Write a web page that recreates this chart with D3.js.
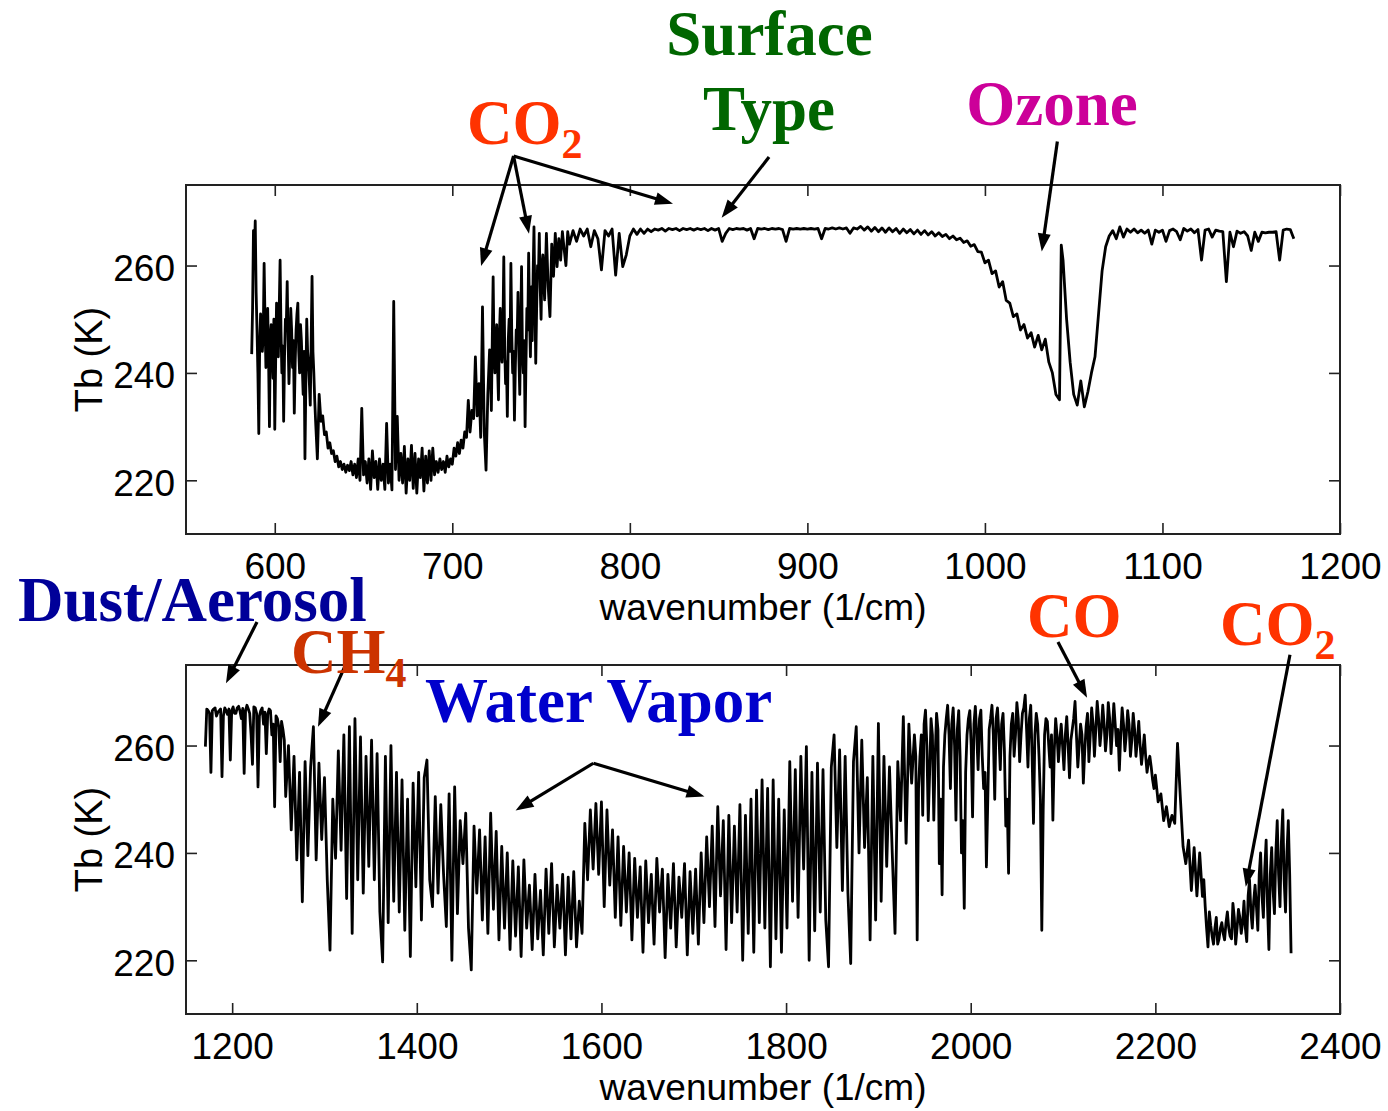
<!DOCTYPE html>
<html>
<head>
<meta charset="utf-8">
<script src="https://cdn.jsdelivr.net/npm/d3@7/dist/d3.min.js"></script>
<style>
  html, body { margin: 0; padding: 0; background: #fff; }
  svg { display: block; }
</style>
</head>
<body>
<svg id="chart" width="1388" height="1111"></svg>
<script>
// ---------------------------------------------------------------
// Brightness temperature spectra, [wavenumber (1/cm), Tb (K)]
// ---------------------------------------------------------------

// Longwave window / CO2 band / ozone band
const upperSpectrum = [
  [587,243.5],[588,266.5],[589,268.3],[590,248],[591,228.7],[592,251],[593,244],[594,260.4],[595,241],[596,252],
  [597,230],[598,249],[599,239],[600,229.5],[601,253],[602,243],[603,261],[604,240],[605,231],[606,250],
  [607,257],[608,238],[609,252],[610,241],[611,232.5],[612,248],[613,253],[614,240],[615,246],[616,236],
  [617,224],[618,250],[619,242],[620,234],[621,258],[622,240],[623,231],[624,224],[625,236],[626,231],
  [627,232],[628,228.5],[629,229],[630,226],[631,227],[632,225],[633,225.5],[634,223.5],[635,224.5],[636,222.5],
  [637,223.5],[638,222],[639,223],[640,221.5],[641,222.8],[642,221.8],[643,223.5],[644,221],[645,223],[646,220.5],
  [647,224],[648,220],[649,233.4],[650,221],[651,223.5],[652,219.5],[653,224],[654,218.3],[655,225.5],[656,220.5],
  [657,223.5],[658,218.3],[659,224],[660,220],[661,223],[662,218.3],[663,230.6],[664,219.5],[665,223],[666,218.2],
  [667,253.3],[668,222],[669,231.9],[670,220],[671,225],[672,219.5],[673,226.3],[674,217.6],[675,224],[676,220],
  [677,226.5],[678,218.5],[679,225],[680,217.6],[681,224],[682,220.5],[683,226],[684,218],[685,224.5],[686,219.5],
  [687,225.5],[688,220],[689,226],[690,221],[691,223.5],[692,221.5],[693,224],[694,222],[695,223.5],[696,221.5],
  [697,224.5],[698,222.5],[699,224],[700,223],[701,226],[702,224.5],[703,227],[704,225],[705,227.5],[706,226],
  [707,229],[708,228],[709,234.9],[710,229],[711,233],[712,231.5],[713,243],[714,232],[715,238],[716,228],
  [717,252.3],[718,229],[719,221.9],[720,236],[721,244.3],[722,233],[723,257.9],[724,240],[725,249],[726,235],
  [727,252],[728,242],[729,261.6],[730,238],[731,231.9],[732,250],[733,260.4],[734,240],[735,231.2],[736,248],
  [737,255],[738,236],[739,259.8],[740,240],[741,230],[742,252],[743,262.3],[744,243],[745,246],[746,267.2],
  [747,241.8],[748,260],[749,266],[750,250],[751,262],[752,253.6],[753,266],[754,256],[755,250.5],[756,264],
  [757,258],[758,266],[759,259.8],[760,265],[761,261],[762,266.3],[763,263],[764,260],[765,266.3],[766,264],
  [768,266.5],[770,264.5],[772,266.8],[774,265.5],[776,266.8],[778,263.5],[780,266.5],[782,265],[784,259.2],[786,266.5],
  [788,265.5],[790,266.8],[792,258.2],[794,266],[796,259.8],[798,262],[800,265.5],[802,266.8],[804,265.8],[806,266.8],
  [808,266],[810,266.8],[812,266.3],[814,266.8],[816,266.6],[818,266.9],[820,266.4],[822,266.9],[824,266.7],[826,266.9],
  [828,266.5],[830,266.9],[832,266.7],[834,266.9],[836,266.6],[838,266.9],[840,266.7],[842,266.9],[844,266.5],[846,266.9],
  [848,266.6],[850,266.9],[852,264.5],[854,266],[856,266.9],[858,266.7],[860,266.9],[862,266.8],[864,266.9],[866,266.6],
  [868,266.9],[870,265],[872,266.9],[874,266.8],[876,266.9],[878,266.7],[880,266.9],[882,266.8],[884,266.9],[886,266.7],
  [888,264.5],[890,266.9],[892,266.8],[894,266.9],[896,266.8],[898,266.9],[900,266.8],[902,266.9],[904,266.8],[906,266.9],
  [908,265],[910,266.9],[912,266.8],[914,267],[916,266.8],[918,267],[920,266.8],[922,267],[924,266],[926,267],
  [928,266.8],[930,267.3],[932,266.6],[934,267.2],[936,266.4],[938,267.1],[940,266.3],[942,267],[944,266.2],[946,267],
  [948,266.3],[950,266.9],[952,266],[954,266.8],[956,266.1],[958,266.7],[960,265.9],[962,266.6],[964,265.8],[966,266.5],
  [968,265.7],[970,266.3],[972,265.5],[974,266.1],[976,265.4],[978,265.8],[980,265],[982,265.5],[984,264.8],[986,265.1],
  [988,264.3],[990,264.6],[992,263.6],[994,263.9],[996,262.6],[998,262.5],[1000,260.5],[1002,261],[1004,258.5],[1006,259],
  [1008,256],[1010,257],[1012,253.5],[1014,253],[1016,250.5],[1018,251],[1020,248],[1022,249],[1024,246.5],[1026,247.5],
  [1028,244.8],[1030,247],[1032,244.3],[1034,246.3],[1036,242],[1038,240],[1040,236],[1042,235],[1043,263.8],[1044,261],
  [1046,250],[1048,242],[1050,236],[1052,234],[1054,238.5],[1056,233.7],[1058,236.5],[1060,240],[1062,243],[1064,251],
  [1066,259],[1068,263.5],[1070,265.5],[1072,266.5],[1074,265],[1076,267.2],[1078,265.3],[1080,266.8],[1082,266.2],[1084,266.8],
  [1086,266.1],[1088,266.6],[1090,266],[1092,266.6],[1094,264],[1096,266.6],[1098,266.2],[1100,266.6],[1102,264.5],[1104,266.5],
  [1106,266.8],[1108,266.3],[1110,264.8],[1112,266.9],[1114,266.4],[1116,266.8],[1118,266.1],[1120,266.7],[1122,261],[1124,266.6],
  [1126,266.8],[1128,265.3],[1130,266.6],[1132,266.4],[1134,266.3],[1136,257],[1138,266.2],[1140,263.5],[1142,266.4],[1144,266],
  [1146,266.3],[1148,265.5],[1150,262.8],[1152,266.2],[1154,264.5],[1156,266.2],[1158,266.1],[1160,266.2],[1162,266.2],[1164,266.3],
  [1166,261],[1168,266.6],[1170,266.8],[1172,266.7],[1174,265]
];

// Extra half-step channels inside the two densest parts of the upper spectrum
const upperSpectrumInterleaved = [
  [587.5,252],[588.5,262],[589.5,255],[590.5,240],[591.5,245],[592.5,249],[593.5,247],[594.5,250],[595.5,246],[596.5,243],
  [597.5,247],[598.5,244],[599.5,250],[600.5,242],[601.5,247],[602.5,252],[603.5,248],[604.5,245],[605.5,243],[606.5,249],
  [607.5,246],[608.5,244],[609.5,248],[610.5,246],[611.5,242],[612.5,251],[613.5,244],[614.5,249],[615.5,241],[616.5,244],
  [617.5,238],[618.5,244],[619.5,238],[620.5,246],[621.5,244],[622.5,235],
  [721.5,240],[722.5,246],[723.5,244],[724.5,246],[725.5,241],[726.5,247],[727.5,244],[728.5,248],[729.5,245],[730.5,242],
  [731.5,246],[732.5,244],[733.5,247],[734.5,244],[735.5,241],[736.5,246],[737.5,243],[738.5,248],[739.5,244],[740.5,246],
  [741.5,242],[742.5,248],[743.5,250],[744.5,256],[745.5,258],[746.5,254],[747.5,252],[748.5,258],[749.5,256],[750.5,260],
  [751.5,257]
];

// Dirty window / water vapour band / CO and CO2 bands (3 cm-1 channels)
const lowerSpectrum = [
  [1171,259.8],[1174,266.5],[1177,255],[1180,266.8],[1183,265.5],[1186,266.5],[1189,254.2],[1192,267],[1195,265.8],[1198,257.3],
  [1201,267.2],[1204,266],[1207,267.3],[1210,265],[1213,254.8],[1216,267.5],[1219,266],[1222,256.5],[1225,267],[1228,252.3],
  [1231,266.5],[1234,264],[1237,258.5],[1240,266.8],[1243,262],[1246,248.6],[1249,265],[1252,257],[1255,263],[1258,250.5],
  [1261,260],[1264,244.3],[1267,258],[1270,238.7],[1273,255],[1276,230.9],[1279,257],[1282,239.5],[1285,256],[1288,263.5],
  [1291,238.7],[1294,256.7],[1297,242.5],[1300,254],[1303,235],[1306,221.9],[1309,250],[1312,239],[1315,259],[1318,240.5],
  [1321,262],[1324,231.5],[1327,263.5],[1330,225],[1333,265],[1336,235],[1339,261.6],[1342,232.5],[1345,258],[1348,237.5],
  [1351,261],[1354,235],[1357,258.5],[1360,229],[1363,219.7],[1366,258],[1369,227],[1372,260],[1375,231],[1378,255],
  [1381,229],[1384,253.6],[1387,225.6],[1390,250],[1393,220.7],[1396,253],[1399,233.7],[1402,255],[1405,227.5],[1408,254],
  [1411,257.3],[1414,235],[1417,230],[1420,250.5],[1423,232.5],[1426,249],[1429,236],[1432,226.3],[1435,251],[1438,220],
  [1441,252.3],[1444,228.7],[1447,246],[1450,238],[1453,247.4],[1456,226],[1459,218.2],[1462,245],[1465,232.5],[1468,244.3],
  [1471,227.5],[1474,243],[1477,225],[1480,247.4],[1483,229.5],[1486,244],[1489,223.8],[1492,241.2],[1495,226],[1498,240],
  [1501,222],[1504,238.5],[1507,224.5],[1510,237.4],[1513,220.7],[1516,238.7],[1519,226],[1522,234],[1525,222],[1528,236],
  [1531,224],[1534,233],[1537,221],[1540,237],[1543,225],[1546,238],[1549,222.5],[1552,234],[1555,226],[1558,236],
  [1561,221],[1564,235.5],[1567,224],[1570,236.5],[1573,222.5],[1576,231],[1579,225],[1582,245.5],[1585,235],[1588,248],
  [1591,237],[1594,249.2],[1597,236],[1600,249.5],[1603,230],[1606,248],[1609,234],[1612,244.3],[1615,228],[1618,243],
  [1621,226.5],[1624,241.2],[1627,229],[1630,240],[1633,223.8],[1636,239],[1639,228],[1642,237.4],[1645,221.5],[1648,238.5],
  [1651,227],[1654,236],[1657,223],[1660,239],[1663,229],[1666,237],[1669,220.5],[1672,236],[1675,226],[1678,238],
  [1681,222.5],[1684,235.5],[1687,228],[1690,238],[1693,221],[1696,236.5],[1699,225],[1702,237],[1705,223],[1708,240],
  [1711,227],[1714,243],[1717,230],[1720,245],[1723,226.3],[1726,248.6],[1729,232],[1732,246],[1735,222],[1738,247],
  [1741,227],[1744,245],[1747,229],[1750,249],[1753,220],[1756,247],[1759,225],[1762,250],[1765,221.5],[1768,251.7],
  [1771,227],[1774,253.6],[1777,226],[1780,252],[1783,218.8],[1786,253.6],[1789,224],[1792,250],[1795,221.5],[1798,248],
  [1801,226],[1804,257],[1807,231],[1810,255.5],[1813,228],[1816,258],[1819,237],[1822,259.8],[1825,220],[1828,255],
  [1831,225.5],[1834,256.7],[1837,229],[1840,255.5],[1843,227.5],[1846,218.8],[1849,256],[1852,262],[1855,241],[1858,259.2],
  [1861,233],[1864,258],[1867,232.5],[1870,219.4],[1873,257],[1876,263.5],[1879,240],[1882,261],[1885,241],[1888,254],
  [1891,223.8],[1894,258],[1897,227.5],[1900,264.1],[1903,231],[1906,258],[1909,237.5],[1912,256],[1915,240],[1918,225],
  [1921,257],[1924,246],[1927,265.4],[1930,241.8],[1933,264],[1936,253],[1939,262],[1942,223.8],[1945,258],[1948,247],
  [1951,266.6],[1954,246],[1957,265],[1960,246.1],[1963,266],[1966,238],[1969,232.2],[1972,262],[1975,267.5],[1978,252],
  [1981,267],[1984,246.1],[1987,266.5],[1990,240],[1993,229.7],[1996,262],[1999,266.5],[2002,246.7],[2005,267.3],[2008,255.5],
  [2011,266.6],[2014,252],[2017,237.4],[2020,263],[2023,267.5],[2026,250],[2029,267],[2032,255.5],[2035,266],[2038,245],
  [2041,236.2],[2044,264],[2047,258],[2050,268],[2053,257],[2056,266],[2059,269.4],[2062,256],[2065,267.5],[2068,245.5],
  [2071,266],[2074,258],[2077,225.6],[2080,262],[2083,264.5],[2086,256],[2089,246.1],[2092,265],[2095,257],[2098,264],
  [2101,255.5],[2104,265.4],[2107,254],[2110,263],[2113,268.2],[2116,256],[2119,264],[2122,253],[2125,263.5],[2128,257],
  [2131,267],[2134,258],[2137,268.2],[2140,260],[2143,267.5],[2146,259],[2149,268],[2152,258.5],[2155,267.8],[2158,260],
  [2161,255.4],[2164,267],[2167,259],[2170,266.5],[2173,258],[2176,266],[2179,258],[2182,264.5],[2185,256.5],[2188,262],
  [2191,255],[2194,258],[2197,253.6],[2200,254.5],[2203,249.5],[2206,251],[2209,246],[2212,248.6],[2215,244.9],[2218,247],
  [2221,245.5],[2224,260.4],[2227,250.5],[2230,241.2],[2233,238],[2236,242.4],[2239,233],[2242,241],[2245,232],[2248,240],
  [2251,231.9],[2254,230],[2257,222.5],[2260,226.5],[2263,223],[2266,228],[2269,224],[2272,227],[2275,223.8],[2278,229],
  [2281,224.5],[2284,230.6],[2287,223],[2290,229.5],[2293,225],[2296,231],[2299,223.5],[2302,235],[2305,226],[2308,234],
  [2311,225.6],[2314,240],[2317,228],[2320,242.4],[2323,222],[2326,241],[2329,228.7],[2332,246],[2335,230],[2338,248],
  [2341,229],[2344,246],[2347,221.3]
];

// Extra channels between the 3 cm-1 grid, where the lower spectrum is densest
const lowerSpectrumInterleaved = [
  [1172.5,266.8],[1175.5,266],[1178.5,266.5],[1181.5,267],[1184.5,266.2],[1187.5,266.8],[1190.5,265.5],[1193.5,266.5],
  [1196.5,266.8],[1199.5,266.5],[1202.5,266],[1205.5,267],[1208.5,266.4],[1211.5,266.9],[1214.5,266.5],[1217.5,266.8],
  [1220.5,262],[1223.5,267.2],[1226.5,266],[1229.5,265.5],[1232.5,267],[1235.5,266.2],[1238.5,265.8],[1241.5,266.5],
  [1244.5,264],[1247.5,265.5],[1250.5,263.5],[1253.5,264.5],[1256.5,261],
  [1940.5,258],[1943.5,252],[1946.5,262],[1949.5,264],[1952.5,260],[1955.5,255],[1958.5,262],[1961.5,258],[1964.5,263],
  [1967.5,250],[1970.5,256],[1973.5,265],[1976.5,262],[1979.5,264],[1982.5,260],[1985.5,263],[1988.5,258],[1991.5,246],
  [1994.5,255],[1997.5,265],[2000.5,260],[2003.5,264],[2006.5,262],[2009.5,265],[2012.5,258],[2015.5,255],[2018.5,250],
  [2021.5,265],[2024.5,262],[2027.5,265],[2030.5,262],[2033.5,264],[2036.5,259],[2039.5,250],[2042.5,258],[2045.5,266],
  [2048.5,262],[2051.5,265],[2054.5,262],[2057.5,267],[2060.5,263],[2063.5,265],[2066.5,258],[2069.5,262],[2072.5,264],
  [2075.5,250],[2078.5,248],[2081.5,265],[2084.5,260],[2087.5,262],[2090.5,259],[2093.5,262],[2096.5,261],[2099.5,260],
  [2102.5,262],[2105.5,260],[2108.5,261],[2111.5,265],[2114.5,262],[2117.5,260],[2120.5,262],[2123.5,259],[2126.5,266],
  [2129.5,262],[2132.5,264],[2135.5,263],[2138.5,265],[2141.5,263],[2144.5,264],[2147.5,262],[2150.5,265],[2153.5,263],
  [2156.5,264],[2159.5,263],[2162.5,262],[2165.5,264],[2168.5,262],[2171.5,264],[2174.5,261],[2177.5,263],[2180.5,261],
  [2183.5,260],[2186.5,259],[2189.5,258],[2192.5,257],[2195.5,256],[2198.5,252],
  [2252.5,235],[2255.5,226],[2258.5,229],[2261.5,224.5],[2264.5,226],[2267.5,223],[2270.5,226],[2273.5,225],[2276.5,227],
  [2279.5,226],[2282.5,224],[2285.5,228],[2288.5,226],[2291.5,228],[2294.5,227],[2297.5,226],[2300.5,232],[2303.5,229],
  [2306.5,231],[2309.5,230],[2312.5,236],[2315.5,232],[2318.5,237],[2321.5,230],[2324.5,236],[2327.5,233],[2330.5,240],
  [2333.5,236],[2336.5,242],[2339.5,235],[2342.5,240],[2345.5,236]
];

// Axis ticks
const upperXTicks = [600, 700, 800, 900, 1000, 1100, 1200];
const lowerXTicks = [1200, 1400, 1600, 1800, 2000, 2200, 2400];
const tbTicks = [220, 240, 260];
const upperXDomain = [550, 1200];
const lowerXDomain = [1150, 2400];
const tbDomain = [210, 275];

// Annotation text, anchored in [wavenumber, Tb] space
const upperLabels = [
  { key: "co2", text: "CO", sub: "2", at: [708.3, 282.6], anchor: "start" },
  { key: "surface", text: "Surface", at: [878.7, 299.2], anchor: "middle" },
  { key: "surface", text: "Type", at: [878.4, 285.2], anchor: "middle" },
  { key: "ozone", text: "Ozone", at: [1037.8, 286.2], anchor: "middle" }
];
const upperArrows = [
  { from: [734.5, 280.4], to: [716.2, 259.9] },
  { from: [734.5, 280.4], to: [743.2, 265.9] },
  { from: [734.5, 280.4], to: [824.3, 271.5] },
  { from: [878.4, 280.2], to: [851.7, 268.9] },
  { from: [1040.8, 283.1], to: [1032.0, 262.6] }
];
const lowerLabels = [
  { key: "dust", text: "Dust/Aerosol", at: [968, 283.2], anchor: "start" },
  { key: "ch4", text: "CH", sub: "4", at: [1263.7, 273.5], anchor: "start" },
  { key: "water", text: "Water Vapor", at: [1408.9, 264.4], anchor: "start" },
  { key: "co2", text: "CO", at: [2061, 280.2], anchor: "start" },
  { key: "co2", text: "CO", sub: "2", at: [2270, 278.7], anchor: "start" }
];
const lowerArrows = [
  { from: [1226.9, 283.0], to: [1193.3, 271.6] },
  { from: [1327.6, 276.9], to: [1293.0, 263.5] },
  { from: [1591.3, 256.7], to: [1507.0, 247.9] },
  { from: [1591.3, 256.7], to: [1711.6, 250.5] },
  { from: [2094.5, 279.3], to: [2126.0, 268.9] },
  { from: [2345.8, 276.9], to: [2297.9, 233.7] }
];

// ---------------------------------------------------------------
// Layout and styling
// ---------------------------------------------------------------
const labelColors = {
  co2: "#FF3300", surface: "#006600", ozone: "#CC0099",
  dust: "#000099", ch4: "#CC3300", water: "#0000CC"
};
const plotLeft = 186, plotRight = 1340, plotHeight = 349;
const tickLen = 11;
const sansFont = "'Liberation Sans', Arial, Helvetica, sans-serif";
const serifFont = "'Liberation Serif', 'Times New Roman', Times, serif";

const svg = d3.select("#chart");
const byWavenumber = (a, b) => a[0] - b[0];

function drawPanel(cfg) {
  const top = cfg.top, bottom = top + plotHeight;
  const x = d3.scaleLinear().domain(cfg.xDomain).range([plotLeft, plotRight]);
  const y = d3.scaleLinear().domain(tbDomain).range([bottom, top]);
  const g = svg.append("g");

  // spectrum
  const line = d3.line().x(d => x(d[0])).y(d => y(d[1]));
  g.append("path")
    .datum(cfg.data)
    .attr("d", line)
    .attr("fill", "none")
    .attr("stroke", "#000")
    .attr("stroke-width", cfg.lineWidth)
    .attr("stroke-linejoin", "round");

  // axes with inward ticks on all four sides
  const styleAxis = sel => {
    sel.select(".domain").remove();
    sel.selectAll(".tick line").attr("stroke", "#222").attr("stroke-width", 1.6);
    sel.selectAll("text")
      .attr("font-family", sansFont)
      .attr("font-size", 37)
      .attr("fill", "#000");
  };
  g.append("g").attr("transform", `translate(0,${bottom})`)
    .call(d3.axisBottom(x).tickValues(cfg.xTicks).tickSize(-tickLen).tickSizeOuter(0).tickPadding(19).tickFormat(d3.format("d")))
    .call(styleAxis);
  g.append("g").attr("transform", `translate(0,${top})`)
    .call(d3.axisTop(x).tickValues(cfg.xTicks).tickSize(-tickLen).tickSizeOuter(0).tickFormat(""))
    .call(styleAxis);
  const left = g.append("g").attr("transform", `translate(${plotLeft},0)`)
    .call(d3.axisLeft(y).tickValues(tbTicks).tickSize(-tickLen).tickSizeOuter(0).tickPadding(11))
    .call(styleAxis);
  left.selectAll("text").attr("dy", "0.4em");
  g.append("g").attr("transform", `translate(${plotRight},0)`)
    .call(d3.axisRight(y).tickValues(tbTicks).tickSize(-tickLen).tickSizeOuter(0).tickFormat(""))
    .call(styleAxis);

  // frame
  g.append("rect")
    .attr("x", plotLeft).attr("y", top)
    .attr("width", plotRight - plotLeft).attr("height", plotHeight)
    .attr("fill", "none").attr("stroke", "#222").attr("stroke-width", 2);

  // axis titles
  g.append("text")
    .attr("x", (plotLeft + plotRight) / 2).attr("y", bottom + 86)
    .attr("text-anchor", "middle")
    .attr("font-family", sansFont).attr("font-size", 37)
    .text("wavenumber (1/cm)");
  g.append("text")
    .attr("transform", `translate(102,${(top + bottom) / 2}) rotate(-90)`)
    .attr("text-anchor", "middle")
    .attr("font-family", sansFont).attr("font-size", 38)
    .text("Tb (K)");

  // annotation arrows
  cfg.arrows.forEach(a => {
    const x0 = x(a.from[0]), y0 = y(a.from[1]);
    const x1 = x(a.to[0]), y1 = y(a.to[1]);
    const dx = x1 - x0, dy = y1 - y0, len = Math.hypot(dx, dy);
    const ux = dx / len, uy = dy / len;
    const headLen = 18, headHalf = 6.5;
    const bx = x1 - ux * headLen, by = y1 - uy * headLen;
    g.append("line")
      .attr("x1", x0).attr("y1", y0)
      .attr("x2", x1 - ux * (headLen - 4)).attr("y2", y1 - uy * (headLen - 4))
      .attr("stroke", "#000").attr("stroke-width", 3.2);
    g.append("path")
      .attr("d", `M${x1},${y1}L${bx - uy * headHalf},${by + ux * headHalf}L${bx + uy * headHalf},${by - ux * headHalf}Z`)
      .attr("fill", "#000");
  });

  // annotation labels
  cfg.labels.forEach(l => {
    const t = g.append("text")
      .attr("x", x(l.at[0])).attr("y", y(l.at[1]))
      .attr("text-anchor", l.anchor)
      .attr("font-family", serifFont)
      .attr("font-weight", "bold")
      .attr("font-size", 63)
      .attr("fill", labelColors[l.key]);
    t.append("tspan").text(l.text);
    if (l.sub) {
      t.append("tspan").attr("dy", 14).attr("font-size", 42).text(l.sub);
    }
  });
}

const upperAll = upperSpectrum.concat(upperSpectrumInterleaved).sort(byWavenumber);
const lowerAll = lowerSpectrum.concat(lowerSpectrumInterleaved).sort(byWavenumber);

drawPanel({ top: 185, data: upperAll, xDomain: upperXDomain, xTicks: upperXTicks,
            labels: upperLabels, arrows: upperArrows, lineWidth: 2.8 });
drawPanel({ top: 665, data: lowerAll, xDomain: lowerXDomain, xTicks: lowerXTicks,
            labels: lowerLabels, arrows: lowerArrows, lineWidth: 2.8 });
</script>
</body>
</html>
